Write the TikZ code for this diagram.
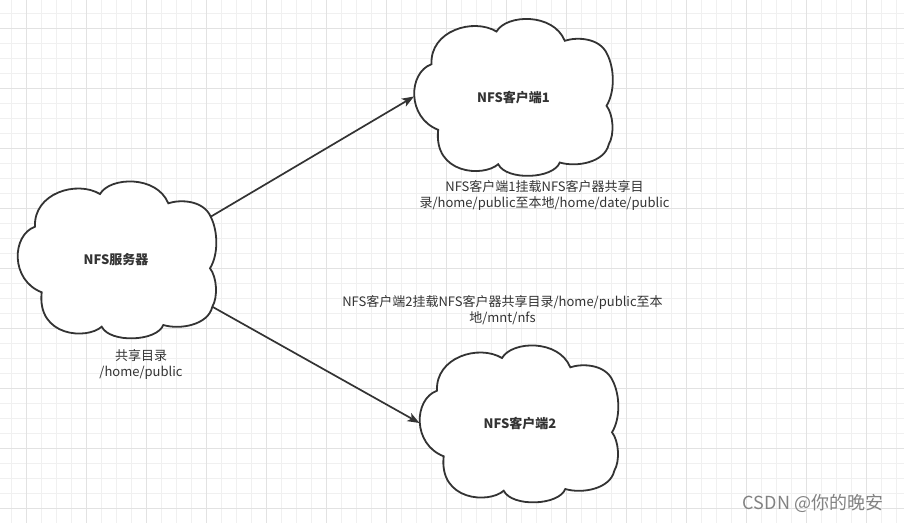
\documentclass[tikz,border=0pt]{standalone}
\usepackage{fontspec}
\setmainfont{Noto Sans CJK SC}
\usetikzlibrary{arrows.meta}
\definecolor{lineak}{RGB}{51,51,51}
\definecolor{gridk}{RGB}{240,240,240}
\definecolor{gridmayork}{RGB}{226,226,226}
\definecolor{marcak}{RGB}{130,130,130}
\tikzset{
  nfscloud/.pic={
    \draw[lineak,line width=1.8pt,fill=white] (-81,-33.3)
      .. controls (-82.7,-66.7) and (-39.3,-80) .. (-16,-66)
      .. controls (-6,-83.3) and (40.7,-85) .. (52.3,-56.7)
      .. controls (64,-60.7) and (87.3,-60) .. (94.7,-43.3)
      .. controls (102.3,-28.3) and (102.3,-5) .. (94,8.3)
      .. controls (100.7,16.7) and (102.3,36.7) .. (96.3,46.7)
      .. controls (92.3,65) and (64,70) .. (47.3,65)
      .. controls (40.7,81.7) and (-6,83.3) .. (-14.3,66.7)
      .. controls (-29.3,80) and (-79.3,76.7) .. (-74.3,32.3)
      .. controls (-106,20) and (-104.3,-25) .. (-81,-33.3) -- cycle;
    \coordinate (-c) at (0,0);
    \coordinate (-w) at (-98.5,-1);
    \coordinate (-ne) at (94.7,-43.3);
    \coordinate (-se) at (96.3,46.7);
  }
}

\begin{document}
\begin{tikzpicture}[x=1pt,y=-1pt,
    cloudlabel/.style={font=\fontsize{13}{16}\selectfont\bfseries,text=lineak},
    nota/.style={font=\fontsize{13}{16}\selectfont,text=lineak,align=center,inner sep=0pt},
    conector/.style={lineak,line width=1.7pt,-{Stealth[length=12pt,width=9pt,inset=3pt]}}]
    \useasboundingbox (0,0) rectangle (904,523);
    % cuadricula
    \foreach \i in {0,...,59} \draw[gridk,line width=0.8pt] ({11.7+15*\i},0) -- ({11.7+15*\i},523);
    \foreach \i in {0,...,33} \draw[gridk,line width=0.8pt] (0,{13.3+15*\i}) -- (904,{13.3+15*\i});
    \foreach \i in {0,...,14} \draw[gridmayork,line width=0.8pt] ({26.7+60*\i},0) -- ({26.7+60*\i},523);
    \foreach \i in {0,...,8} \draw[gridmayork,line width=0.8pt] (0,{28.3+60*\i}) -- (904,{28.3+60*\i});

    \pic (srv) at (116,260) {nfscloud};
    \pic (c1) at (512.5,97.5) {nfscloud};
    \pic (c2) at (518,424) {nfscloud};
    \node[cloudlabel] (srvtext) at (srv-c) {NFS服务器};
    \node[cloudlabel] (c1text) at ([xshift=1pt]c1-c) {NFS客户端1};
    \node[cloudlabel] (c2text) at ([xshift=2pt]c2-c) {NFS客户端2};

    \draw[conector] (srv-ne) -- (c1-w);
    \draw[conector] (srv-se) -- (c2-w);

    \node[nota] (srvnota) at (141,364.5) {共享目录\\/home/public};
    \node[nota] (c1nota) at (544.5,195.3) {NFS客户端1挂载NFS客户器共享目\\录/home/public至本地/home/date/public};
    \node[nota] (c2nota) at (502.5,310.5) {NFS客户端2挂载NFS客户器共享目录/home/public至本\\地/mnt/nfs};
    \node[font=\fontsize{18}{18}\selectfont,text=marcak] (marca) at (813,503) {CSDN @你的晚安};
  \end{tikzpicture}
\end{document}
